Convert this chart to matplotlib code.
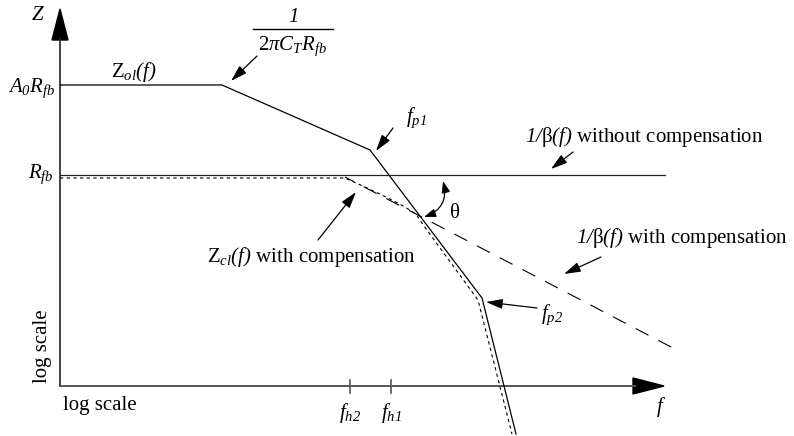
import matplotlib
matplotlib.use('Agg')
import matplotlib.pyplot as plt
from matplotlib.patches import FancyArrowPatch, Polygon

plt.rcParams['font.family'] = ['Liberation Serif', 'DejaVu Serif']
# italic digits by default in formulas, \mathsf gives upright letters
plt.rcParams['mathtext.fontset'] = 'custom'
plt.rcParams['mathtext.rm'] = 'Liberation Serif:italic'
plt.rcParams['mathtext.it'] = 'Liberation Serif:italic'
plt.rcParams['mathtext.sf'] = 'Liberation Serif'
plt.rcParams['mathtext.bf'] = 'Liberation Serif:bold'

# sketch coordinates (x = log f, y = log Z, y grows downwards)
zol_f = [60, 222, 370, 482, 516]
zol_z = [85, 85, 150, 298, 434]

zcl_f = [60, 345, 365, 390, 405, 416, 424, 478, 512]
zcl_z = [178, 178, 187, 199, 207, 214, 226, 300, 434]

beta_nc_f = [60, 665]
beta_nc_z = [175, 175]

beta_c_f = [345, 673]
beta_c_z = [177, 348]

tick_f = [350, 391]
tick_labels = [r'$f_{h2}$', r'$f_{h1}$']

axis_x0, axis_y0 = 60, 386
fs = 15

fig = plt.figure(figsize=(7.94, 4.36), dpi=100)
ax = fig.add_axes([0, 0, 1, 1])
ax.set_xlim(0, 794)
ax.set_ylim(436, 0)
ax.axis('off')

# axes with big filled arrowheads
ax.plot([axis_x0, axis_x0], [axis_y0, 38], color='#222222', lw=1.2)
ax.plot([axis_x0, 635], [axis_y0, axis_y0], color='#555555', lw=1.4)
ax.add_patch(Polygon([[axis_x0 - 8, 40], [axis_x0 + 8, 40], [axis_x0, 9]], color='black'))
ax.add_patch(Polygon([[633, axis_y0 - 8], [633, axis_y0 + 8], [664, axis_y0]], color='black'))

for x in tick_f:
    ax.plot([x, x], [axis_y0 - 6, axis_y0 + 7], color='#555555', lw=1.2)
for x, lab in zip(tick_f, tick_labels):
    ax.text(x, 413, lab, fontsize=fs, ha='center', va='center')

# curves
ax.plot(zol_f, zol_z, color='black', lw=0.9)
ax.plot(beta_nc_f, beta_nc_z, color='#222222', lw=0.9)
ax.plot(zcl_f, zcl_z, color='black', lw=0.8, linestyle=(0, (3, 3)))
ax.plot(beta_c_f, beta_c_z, color='black', lw=0.8, linestyle=(4, (13, 10)))

# labels
ax.text(38, 15, r'$Z$', fontsize=fs, ha='center', va='center')
ax.text(55, 88, r'$A_{0}R_{fb}$', fontsize=fs, ha='right', va='center')
ax.text(54, 174, r'$R_{fb}$', fontsize=fs, ha='right', va='center')
ax.text(134, 72, r'$\mathsf{Z}_{ol}(f)$', fontsize=fs, ha='center', va='center')
ax.text(100, 405, 'log scale', fontsize=fs, ha='center', va='center')
ax.text(43, 346, 'log scale', fontsize=fs, ha='center', va='center', rotation=90)
ax.text(661, 407, r'$f$', fontsize=fs, ha='center', va='center')

# 1/(2 pi C_T R_fb)
ax.text(293, 17, r'$1$', fontsize=fs, ha='center', va='center')
ax.plot([253, 333], [29, 29], color='black', lw=1.0)
ax.text(293, 46, r'$\mathsf{2}\pi C_T R_{fb}$', fontsize=fs, ha='center', va='center')

ax.text(416, 118, r'$f_{p1}$', fontsize=fs, ha='center', va='center')
ax.text(552, 315, r'$f_{p2}$', fontsize=fs, ha='center', va='center')
ax.text(644, 137, r'$1/\mathsf{\beta}(f)$ without compensation',
        fontsize=fs, ha='center', va='center')
ax.text(682, 238, r'$1/\mathsf{\beta}(f)$ with compensation',
        fontsize=fs, ha='center', va='center')
ax.text(311, 257, r'$\mathsf{Z}_{cl}(f)$ with compensation',
        fontsize=fs, ha='center', va='center')
ax.text(455, 213, r'$\mathsf{\theta}$', fontsize=fs, ha='center', va='center')

# pointer arrows (tail, head)
pointers = [
    ((257, 56), (231, 81)),
    ((393, 128), (376, 151)),
    ((573, 152), (551, 169)),
    ((318, 240), (356, 192)),
    ((601, 257), (564, 274)),
    ((537, 308), (486, 302)),
]
for (x0, y0), (x1, y1) in pointers:
    ax.add_patch(FancyArrowPatch((x0, y0), (x1, y1),
                                 arrowstyle='-|>,head_length=1.0,head_width=0.3',
                                 mutation_scale=10, color='black', lw=0.9,
                                 shrinkA=0, shrinkB=0))

# angle theta between the two slopes
ax.add_patch(FancyArrowPatch((443, 181), (424, 217),
                             arrowstyle='<|-|>,head_length=0.7,head_width=0.25',
                             connectionstyle='arc3,rad=-0.45',
                             mutation_scale=10, color='black', lw=0.9,
                             shrinkA=0, shrinkB=0))

fig.savefig('out.png', dpi=100)
